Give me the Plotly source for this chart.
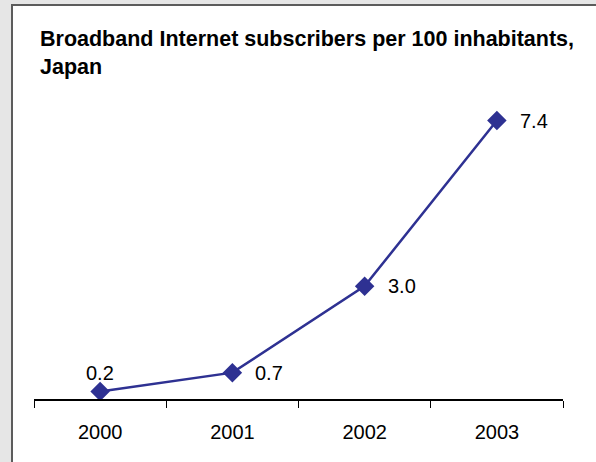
import plotly.graph_objects as go

# Broadband Internet subscribers per 100 inhabitants, Japan
years = ["2000", "2001", "2002", "2003"]
subscribers = [0.2, 0.7, 3.0, 7.4]
label_texts = ["0.2", "0.7", "3.0", "7.4"]

W, H = 596, 462
M_L, M_R, M_T, M_B = 34, 33, 98, 63
PW, PH = W - M_L - M_R, H - M_T - M_B
NAVY = "#2E3192"
FONT = "Liberation Sans, Arial, sans-serif"


def px_x(px):
    return (px - M_L) / PW


def px_y(py):
    return (H - M_B - py) / PH


fig = go.Figure()
fig.add_trace(go.Scatter(
    x=years, y=subscribers, mode="lines+markers",
    line=dict(color=NAVY, width=2.5),
    marker=dict(symbol="diamond", size=15, color=NAVY),
    hoverinfo="skip", showlegend=False,
))

# value labels: first one above its point, the rest to the right
# (category axis positions are given by index)
for i, (v, t) in enumerate(zip(subscribers, label_texts)):
    if i == 0:
        fig.add_annotation(x=i, y=v, text=t, showarrow=False,
                           xanchor="center", yanchor="middle", yshift=18,
                           font=dict(family=FONT, size=20, color="black"))
    else:
        fig.add_annotation(x=i, y=v, text=t, showarrow=False,
                           xanchor="left", yanchor="middle", xshift=21,
                           font=dict(family=FONT, size=20, color="black"))

# window-style frame: grey strips on left and top with a dark edge
frame_shapes = [
    dict(type="rect", x0=px_x(0), x1=px_x(11), y0=px_y(H), y1=px_y(0),
         fillcolor="#e6e6e6", line_width=0),
    dict(type="rect", x0=px_x(0), x1=px_x(W), y0=px_y(4), y1=px_y(0),
         fillcolor="#e6e6e6", line_width=0),
    dict(type="line", x0=px_x(12), x1=px_x(12), y0=px_y(H), y1=px_y(4),
         line=dict(color="#5c5c5c", width=2)),
    dict(type="line", x0=px_x(11), x1=px_x(W), y0=px_y(5), y1=px_y(5),
         line=dict(color="#5c5c5c", width=2)),
]
for s in frame_shapes:
    fig.add_shape(xref="paper", yref="paper", layer="above", **s)

fig.update_layout(
    width=W, height=H,
    margin=dict(l=M_L, r=M_R, t=M_T, b=M_B),
    paper_bgcolor="white", plot_bgcolor="white",
    font=dict(family=FONT, size=20, color="black"),
    title=dict(
        text="<b>Broadband Internet subscribers per 100 inhabitants,<br>Japan</b>",
        font=dict(family=FONT, size=21.5, color="black"),
        x=40 / W, xanchor="left", xref="container",
        y=1 - 46 / H, yanchor="top", yref="container",
    ),
    xaxis=dict(
        type="category", range=[-0.5, 3.5],
        showline=True, linecolor="black", linewidth=1.5,
        ticks="outside", tickson="boundaries", ticklen=7,
        tickcolor="black", tickwidth=1,
        showgrid=False, zeroline=False,
        ticklabelstandoff=14,
        tickfont=dict(family=FONT, size=20, color="black"),
    ),
    yaxis=dict(
        range=[0, 8], visible=False, showgrid=False, zeroline=False,
    ),
)

fig.write_html("out.html")
